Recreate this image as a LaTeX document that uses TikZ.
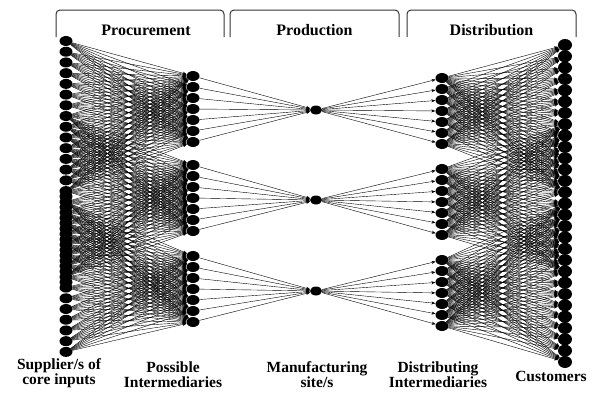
\documentclass[tikz,border=0pt]{standalone}
\usepackage{fontspec}
\setmainfont{Liberation Serif}
\usetikzlibrary{shapes.geometric,arrows.meta}
\begin{document}
\begin{tikzpicture}[x=1pt,y=-1pt,
  dot/.style={ellipse,fill=black,inner sep=0pt,minimum width=13pt,minimum height=10pt},
  cdot/.style={dot,minimum width=14pt,minimum height=12pt},
  mdot/.style={dot,minimum width=12pt,minimum height=9pt},
  link/.style={line width=0.4pt,-{Stealth[length=4pt,width=3pt]}},
  brace/.style={line width=1pt,rounded corners=4pt,draw=black!80},
  ttl/.style={font=\fontsize{16}{15}\selectfont\bfseries,inner sep=0pt},
  lab/.style={font=\fontsize{15.5}{15}\selectfont\bfseries,align=center,inner sep=0pt}]
\useasboundingbox (0,0) rectangle (599,392);
% suppliers
\foreach \k in {1,...,30} \node[dot] (s\k) at (66,{41+10.72*(\k-1)}) {};
\foreach \k in {15,...,23} \node[dot] (sf\k) at (66,{41+10.72*(\k-0.5)}) {};
% procurement intermediaries
\foreach \g/\y in {1/76,2/165,3/256}
  \foreach \i in {1,...,7} \node[dot] (p\g-\i) at (193,{\y+11*(\i-1)}) {};
% manufacturing
\node[mdot] (m1) at (316,110) {};
\node[mdot] (m2) at (316,200) {};
\node[mdot] (m3) at (316,291) {};
% distributing intermediaries
\foreach \g/\y in {1/78,2/169,3/260}
  \foreach \i in {1,...,7} \node[dot] (d\g-\i) at (442,{\y+11*(\i-1)}) {};
% customers
\foreach \k in {1,...,29} \node[cdot] (c\k) at (565,{45+11.32*(\k-1)}) {};
% links
\foreach \g/\a/\b in {1/1/15,2/8/23,3/16/30}
  \foreach \k in {\a,...,\b}
    \foreach \i in {1,...,7} \draw[link] (s\k) -- (p\g-\i);
\foreach \g in {1,2,3}
  \foreach \i in {1,...,7} {
    \draw[link] (p\g-\i) -- (m\g);
    \draw[link] (m\g) -- (d\g-\i);
  }
\foreach \g/\a/\b in {1/1/14,2/8/21,3/15/29}
  \foreach \k in {\a,...,\b}
    \foreach \i in {1,...,7} \draw[link] (d\g-\i) -- (c\k);
% brackets
\draw[brace] (56,37) -- (56,10) -- (224,10) -- (224,37);
\draw[brace] (230,37) -- (230,10) -- (399,10) -- (399,37);
\draw[brace] (407,37) -- (407,10) -- (576,10) -- (576,37);
\node[ttl,anchor=base] (tproc) at (146,35) {Procurement};
\node[ttl,anchor=base] (tprod) at (314.5,35) {Production};
\node[ttl,anchor=base] (tdist) at (491.5,35) {Distribution};
% bottom labels
\node[lab,anchor=base] (lsup) at (59,384) {Supplier/s of\\core inputs};
\node[lab,anchor=base] (lint) at (173,387) {Possible\\Intermediaries};
\node[lab,anchor=base] (lman) at (317,387) {Manufacturing\\site/s};
\node[lab,anchor=base] (ldis) at (438,387) {Distributing\\Intermediaries};
\node[lab,anchor=base] (lcus) at (551,381) {Customers};
\end{tikzpicture}
\end{document}
